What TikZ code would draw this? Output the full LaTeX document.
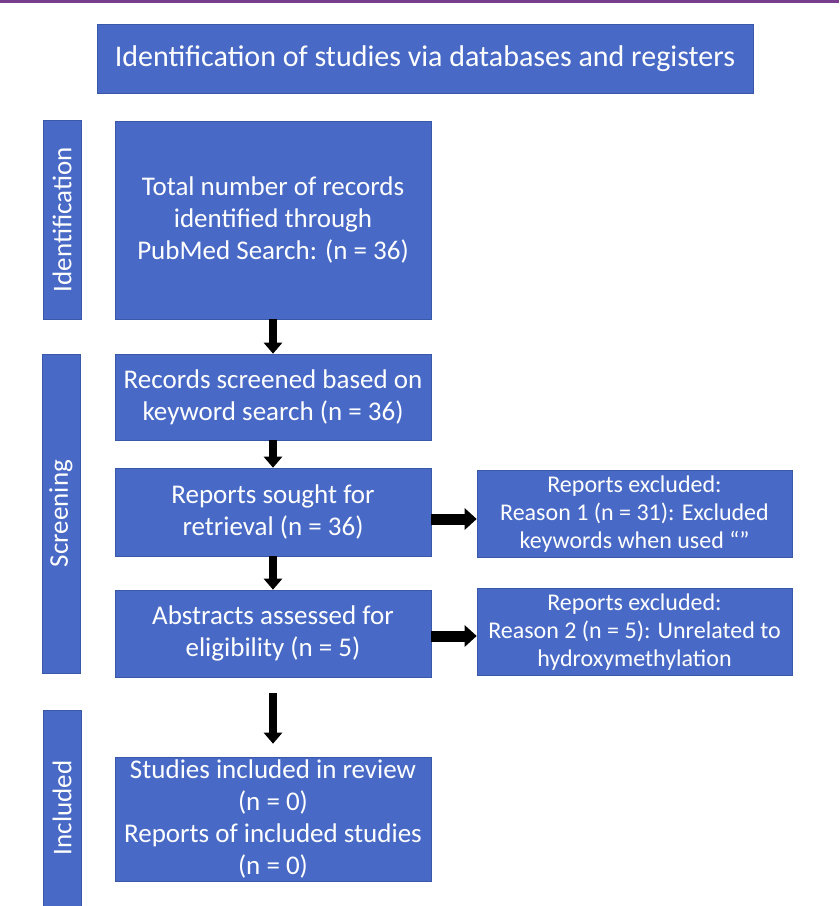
\documentclass[tikz,border=0pt]{standalone}
\usepackage{fontspec}
\setmainfont{Carlito}
\usetikzlibrary{positioning}
\usetikzlibrary{arrows.meta}

\definecolor{boxblue}{RGB}{72,106,198}
\definecolor{boxedge}{RGB}{58,88,168}
\definecolor{topline}{RGB}{118,62,140}

\begin{document}
\begin{tikzpicture}[x=1pt,y=-1pt
    ,box/.style={fill=boxblue,draw=boxedge,line width=0.6pt,text=white
                ,align=center,inner sep=0pt,minimum width=316pt
                ,font=\fontsize{27}{32}\selectfont}
    ,side/.style={fill=boxblue,draw=boxedge,line width=0.6pt,text=white
                 ,rotate=90,inner sep=0pt,minimum height=38pt
                 ,font=\fontsize{27}{30}\selectfont}
    ,excl/.style={box,minimum width=315pt,minimum height=87pt
                 ,font=\fontsize{24}{28}\selectfont}
    ,downarrow/.style={line width=8pt,-{Triangle[width=18pt,length=11pt]}}
    ,rightarrow/.style={line width=11pt,-{Triangle[width=21pt,length=12pt]}}]
\useasboundingbox (0,0) rectangle (839,906);
\fill[topline] (0,0) rectangle (839,3);

\node (title) at (425,58.5) [box,minimum width=656pt,minimum height=69pt
                            ,font=\fontsize{30}{34}\selectfont]
  {Identification of studies via databases and registers};

% phase labels
\node (idlabel) at (62,219.5) [side,minimum width=199pt] {Identification};
\node (scrlabel) at (61,513.5) [side,minimum width=319pt] {Screening};
\node (inclabel) at (62,808) [side,minimum width=196pt] {Included};

% flow boxes
\node (total) at (273,220) [box,minimum height=198pt]
  {Total number of records\\identified through\\PubMed Search: (n = 36)};
\node (screened) at (273,397) [box,minimum height=86pt]
  {Records screened based on\\keyword search (n = 36)};
\node (sought) at (273,512) [box,minimum height=88pt]
  {Reports sought for\\retrieval (n = 36)};
\node (abstracts) at (273,633.5) [box,minimum height=87pt]
  {Abstracts assessed for\\eligibility (n = 5)};
\node (included) at (273,819) [box,minimum height=124pt]
  {Studies included in review\\(n = 0)\\Reports of included studies\\(n = 0)};

\node (excluded1) at (634.5,514) [excl]
  {Reports excluded:\\Reason 1 (n = 31): Excluded\\keywords when used “”};
\node (excluded2) at (634.5,632) [excl]
  {Reports excluded:\\Reason 2 (n = 5): Unrelated to\\hydroxymethylation};

\coordinate (soughtout) at ([yshift=-7pt]sought.east);
\coordinate (abstractsout) at ([yshift=-2.5pt]abstracts.east);

\path[downarrow]
  (total) edge (screened)
  (screened) edge (sought)
  (sought) edge (abstracts)
  (abstracts) edge[shorten <=16pt,shorten >=13pt] (included)
  ;
\path[rightarrow]
  (soughtout) edge (soughtout -| excluded1.west)
  (abstractsout) edge (abstractsout -| excluded2.west)
  ;
\end{tikzpicture}
\end{document}
